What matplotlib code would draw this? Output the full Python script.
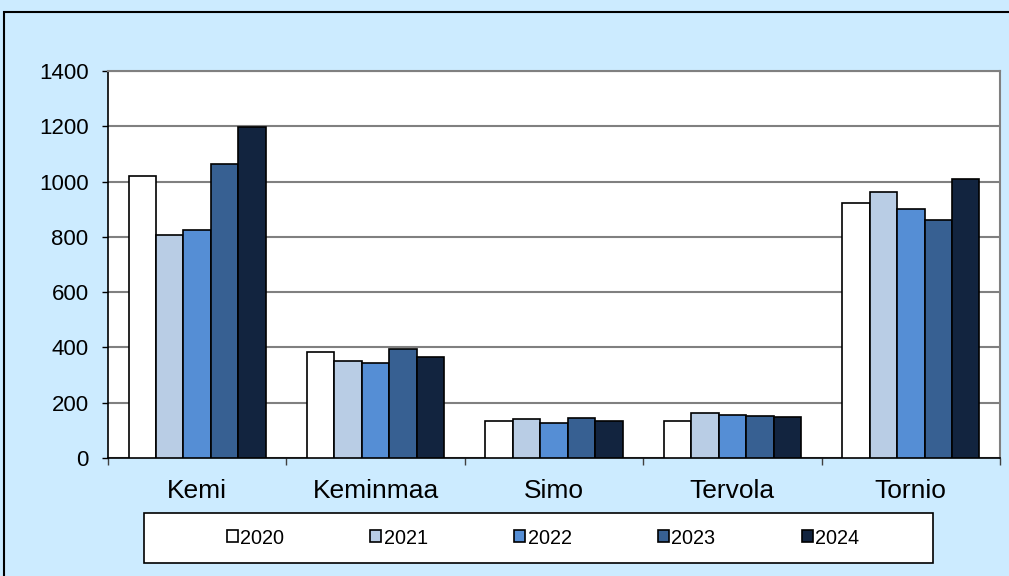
import numpy as np
import matplotlib
matplotlib.use("Agg")
from matplotlib import pyplot as plt
from matplotlib.patches import Rectangle

# data
kunnat = ["Kemi", "Keminmaa", "Simo", "Tervola", "Tornio"]
vuodet = ["2020", "2021", "2022", "2023", "2024"]
v2020 = [1021, 385, 135, 134, 924]
v2021 = [806, 351, 140, 163, 963]
v2022 = [825, 344, 127, 156, 902]
v2023 = [1062, 393, 144, 152, 861]
v2024 = [1199, 367, 135, 148, 1008]
yticks = [0, 200, 400, 600, 800, 1000, 1200, 1400]

colors = ["#FFFFFF", "#B9CDE5", "#558ED5", "#376092", "#12243F"]
plt.rcParams['font.family'] = ['Liberation Sans', 'DejaVu Sans']

fig = plt.figure(figsize=(10.09, 5.76), dpi=100)
fig.patch.set_facecolor("#CCEBFF")
# outer border (cut off on right and bottom)
fig.patches.append(Rectangle((4/1009, -0.1), 1.2, 1-12/576+0.1, transform=fig.transFigure,
                             fill=False, edgecolor="black", linewidth=1.5))

ax = fig.add_axes([108/1009, 118/576, 892/1009, 387/576])
ax.set_facecolor("white")
x = np.arange(len(kunnat))
w = 0.154
series = [v2020, v2021, v2022, v2023, v2024]
for i, s in enumerate(series):
    ax.bar(x + (i-2)*w, s, w, color=colors[i], edgecolor="black", linewidth=1.2,
           label=vuodet[i], zorder=3)

ax.set_xlim(-0.5, len(kunnat)-0.5)
ax.set_ylim(0, 1400)
ax.set_yticks(yticks)
ax.set_yticklabels([str(t) for t in yticks], fontsize=16)
ax.yaxis.grid(True, color="#808080", linewidth=1.5, zorder=0)
ax.set_xticks(np.arange(len(kunnat)+1)-0.5, minor=False)
ax.set_xticklabels([])
ax.set_xticks(x, minor=True)
ax.set_xticklabels(kunnat, minor=True, fontsize=19)
ax.tick_params(axis='x', which='minor', length=0, pad=15)
ax.tick_params(axis='x', which='major', length=5, width=1, color="#404040", direction='out')
ax.tick_params(axis='y', length=4, width=1, pad=10)
for s in ["top", "right"]:
    ax.spines[s].set_color("#808080")
    ax.spines[s].set_linewidth(1.5)
for s in ["left", "bottom"]:
    ax.spines[s].set_color("black")
    ax.spines[s].set_linewidth(1.2)

# legend box
fig.patches.append(Rectangle((144/1009, 1-563/576), (933-144)/1009, 50/576,
                             transform=fig.transFigure, facecolor="white",
                             edgecolor="black", linewidth=1.2))
h, l = ax.get_legend_handles_labels()
leg = fig.legend(h, l, ncol=5, loc="center", bbox_to_anchor=(543/1009, 1-538/576),
                 frameon=False, fontsize=14.3, handlelength=0.55, handleheight=0.55,
                 handletextpad=0.12, columnspacing=4.35, borderpad=0)

fig.savefig("out.png", dpi=100, facecolor=fig.get_facecolor())
